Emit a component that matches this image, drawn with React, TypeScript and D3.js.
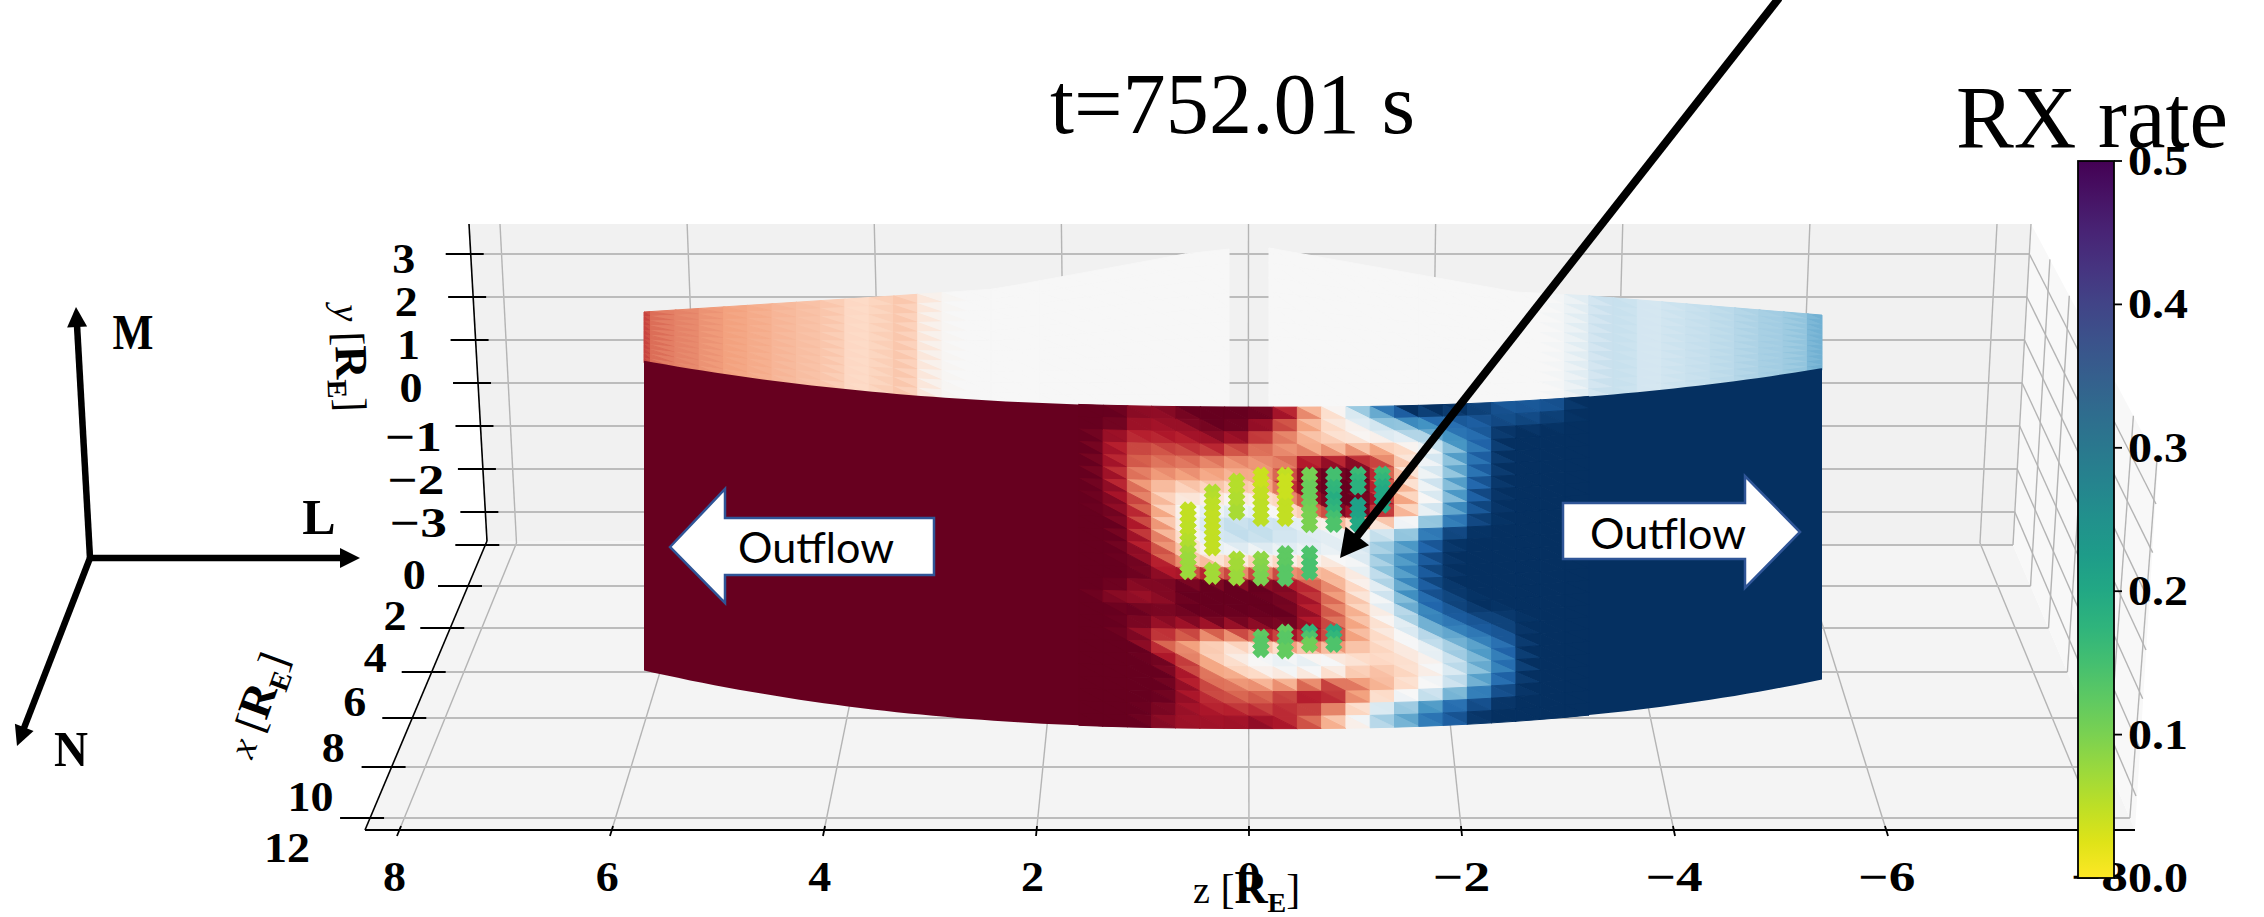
import React, { useEffect, useRef } from 'react'
import * as d3 from 'd3'

const WIDTH = 2264
const HEIGHT = 917

const SERIF = '"Liberation Serif", serif'
const OUTFLOW_FONT = 'Lato, sans-serif'

const zTicks = [8, 6, 4, 2, 0, -2, -4, -6, -8]
const yTicks = [3, 2, 1, 0, -1, -2, -3]
const xTicks = [0, 2, 4, 6, 8, 10, 12]
const rateTicks = [0, 0.1, 0.2, 0.3, 0.4, 0.5]

// flow value per mesh cell, rows top to bottom, columns from the red side.
// left of the table is saturated red, right of it saturated blue
const flowRows = [
  [-10, -9, -9, -10, -10, -10, -10, -8.5, -4, -1, 3, 6.5, 10, 10, 10, 9.5, 8.5, 8.5, 8.5],
  [-10, -8.5, -8.5, -9, -10, -10, -9, -6.5, -3.5, -1.5, 0, 3, 5, 7, 8, 8.5, 9, 9, 9.5],
  [-8.5, -7.5, -8, -8, -9, -9, -7, -5, -3, -2, -0.5, 0.5, 2, 4, 7, 8],
  [-8, -6.5, -6.5, -7, -7.5, -6.5, -5.5, -4.5, -4, -3.5, -3.5, -3.5, -1.5, 1, 5, 7.5],
  [-8, -6, -5.5, -5.5, -5, -4.5, -4.5, -5, -8.5, -8.5, -9, -6, -2, 1, 5, 8],
  [-8, -5, -4.5, -4.5, -4, -3.5, -4, -6, -9.5, -10, -10, -7, -2, 1, 4.5, 8],
  [-8.5, -4.5, -3, -2.5, -2.5, -2.5, -3, -7, -9.5, -10, -10, -7, -2.5, 1.5, 5, 8.5],
  [-9, -6, -2.5, -1, -1, -0.5, -1, -3, -8, -10, -10, -8, -3, 0.5, 5, 9],
  [-9.5, -7, -3, 0, 1, 1, 0.5, -1, -4, -9, -10, -8, -3, 1, 6, 9],
  [-10, -7.5, -3.5, 0, 2, 2.5, 2.5, 2, 0.5, -1.5, -3, -2, 0, 4, 7, 9.5],
  [-10, -8, -4, -1, 1.5, 2.5, 2.5, 2, 1.5, 1, 1, 2.5, 4, 7.5, 9.5],
  [-10, -8.5, -5.5, -2, 0.5, 1, 1, 1, 1, 1, 1.5, 3.5, 5.5, 8.5],
  [-10, -9.5, -7, -3, -2, -1.5, -1.5, -1, -1, -0.5, 0.5, 4, 6, 9],
  [-10, -10, -8.5, -7.5, -7, -5.5, -6, -6, -4, -3, 0, 3.5, 6, 9],
  [-10, -9, -9.5, -10, -10, -10, -10, -9, -7, -4, -1.5, 2, 6, 9],
  [-9, -8.5, -9, -10, -10, -10, -10, -9.5, -8, -5, -2, 1, 5.5, 8.5, 9.5],
  [-10, -10, -9.5, -10, -10, -10, -10, -10, -8.5, -5.5, -3, 0, 4, 7.5, 9],
  [-10, -9.5, -9, -9, -9.5, -9.5, -9.5, -10, -8.5, -6, -3.5, -1, 2, 6, 8, 9, 9.5],
  [-10, -9, -7, -6.5, -5, -5.5, -7, -8, -8, -7, -3.5, -1.5, 0.5, 4, 6, 8, 9],
  [-10, -10, -6, -4, -2, -1.5, -1.5, -3, -4, -4, -3, -2, -0.5, 1.5, 4, 6, 8],
  [-10, -10, -9.5, -6, -3, -1, 0.5, 1, 1, 0, -1.5, -2, -1.5, 0, 3, 5, 7.5],
  [-10, -10, -10, -7.5, -4.5, -3, -1, 0, 0, -0.5, -2.5, -3, -2, -0.5, 2, 4.5, 7],
  [-10, -10, -10, -8.5, -6, -5, -4, -4, -5.5, -7, -5, -3.5, -2, 0, 2, 5, 8],
  [-10, -10, -10, -8.5, -7, -6, -6, -7, -8.5, -8, -4.5, -2, 0, 2, 4.5, 7, 9],
  [-10, -10, -9.5, -8.5, -8, -7.5, -7, -7.5, -7, -5, -2, 2, 4, 6, 8, 9],
  [-10, -10, -9, -8.5, -8.5, -8.5, -9, -8, -6, -3, 0, 3.5, 5, 7.5, 8.5],
]

// far side of the surface, one value per column
const stripRedColumns = [-6.8, -5.2, -4.9, -4.4, -4, -3.7, -3.3, -3, -2.7, -1.9, -2.3, -2.9, -0.6]
const stripBlueColumns = [0, 0.8, 2.2, 2.3, 1.7, 2.1, 2.3, 2.6, 3, 3.4, 3.7, 4.8]

// RX rate markers: mesh column, first mesh row, then one rate per marker (half a row apart)
const rxColumns = [3, 4, 4, 5, 5, 6, 6, 7, 7, 8, 8, 9, 10, 10, 11, 6, 7, 8, 9]
const rxFirstRows = [8.35, 6.9, 13.2, 6, 12.3, 5.5, 12.3, 5.5, 11.85, 5.5, 11.85, 5.5, 5.5, 8, 5.5, 18.6, 18.2, 18.2, 18.2]
const rxRates = [
  [0.045, 0.045, 0.045, 0.05, 0.05, 0.055, 0.06, 0.07, 0.075, 0.075, 0.075],
  [0.06, 0.055, 0.05, 0.05, 0.045, 0.045, 0.045, 0.045, 0.045, 0.045],
  [0.07, 0.07],
  [0.055, 0.055, 0.055, 0.06, 0.06, 0.065],
  [0.065, 0.07, 0.07, 0.075],
  [0.04, 0.04, 0.04, 0.045, 0.045, 0.05, 0.05, 0.05],
  [0.085, 0.09, 0.095, 0.1],
  [0.045, 0.04, 0.04, 0.04, 0.04, 0.045, 0.045, 0.045],
  [0.125, 0.125, 0.125, 0.13, 0.13],
  [0.105, 0.105, 0.115, 0.115, 0.115, 0.11, 0.105, 0.1, 0.1],
  [0.14, 0.14, 0.145, 0.145],
  [0.15, 0.15, 0.17, 0.175, 0.19, 0.18, 0.17, 0.15, 0.14],
  [0.16, 0.17, 0.18],
  [0.215, 0.215, 0.21, 0.2],
  [0.16, 0.17, 0.19, 0.2, 0.2, 0.2],
  [0.125, 0.13, 0.13],
  [0.12, 0.13, 0.13, 0.12],
  [0.17, 0.14, 0.11],
  [0.19, 0.17, 0.14],
]

// width of a bold tick label, the reference font runs wider than the installed one
const tickWidth = (s: string) => s.replace('\u2212', '').length * 23 + (s.startsWith('\u2212') ? 34 : 0)

export default function App() {
  const ref = useRef<SVGSVGElement>(null)

  useEffect(() => {
    const svg = d3.select(ref.current)
    svg.selectAll('*').remove()

    const line = (g: any, x1: number, y1: number, x2: number, y2: number, stroke: string, w: number) =>
      g.append('line')
        .attr('x1', x1).attr('y1', y1).attr('x2', x2).attr('y2', y2)
        .attr('stroke', stroke).attr('stroke-width', w)

    const poly = (g: any, pts: number[][], fill: string) =>
      g.append('polygon').attr('points', pts.map((p) => p.join(',')).join(' ')).attr('fill', fill)

    const label = (g: any, x: number, y: number, s: string, size: number, opts: any = {}) => {
      const t = g.append('text')
        .attr('x', x).attr('y', y)
        .attr('font-family', opts.family || SERIF)
        .attr('font-size', size)
        .attr('font-weight', opts.weight || 'normal')
        .attr('text-anchor', opts.anchor || 'middle')
        .attr('fill', '#000')
        .text(s)
      if (opts.length) t.attr('textLength', opts.length).attr('lengthAdjust', 'spacingAndGlyphs')
      return t
    }

    // 3D box
    const zTop = d3.scaleLinear().domain([8, -8]).range([500, 1997])
    const zBack = d3.scaleLinear().domain([8, -8]).range([516.5, 1980])
    const zFront = d3.scaleLinear().domain([8, -8]).range([398.6, 2099.4])
    const yWall = d3.scaleLinear().domain([3, -3]).range([254, 512])
    const depth = d3.scaleLinear().domain(xTicks).range([545, 586, 628, 672, 718, 767, 818])
    const wallSpine = d3.scaleLinear().domain([224, 541]).range([469, 487])
    const floorSpine = d3.scaleLinear().domain([541, 830]).range([487, 365])
    const floorRight = d3.scaleLinear().domain([545, 830]).range([2013, 2135])
    const wallRight = d3.scaleLinear().domain([224, 545]).range([2031, 2013])
    const sideTopX = d3.scaleLinear().domain([2013, 2129]).range([2031, 2156])
    const sideTopY = d3.scaleLinear().domain([2031, 2156]).range([224, 458])
    const sideFrontX = d3.scaleLinear().domain([3, -3]).range([2156, 2136])
    const sideFrontY = d3.scaleLinear().domain([3, -3]).range([504, 796])
    const floorZ = (z: number, y: number) =>
      d3.scaleLinear().domain([543, 832]).range([zBack(z), zFront(z)])(y)

    const box = svg.append('g')
    poly(box, [[469, 224], [2031, 224], [2013, 545], [487, 541]], '#f1f1f1')
    poly(box, [[487, 541], [2013, 545], [2135, 830], [365, 830]], '#f4f4f4')
    poly(box, [[2031, 224], [2158, 462], [2135, 830], [2013, 545]], '#f8f8f8')

    const GRID = '#b4b4b4'
    zTicks.forEach((z) => {
      line(box, zTop(z), 224, zBack(z), 543, GRID, 1.4)
      line(box, zBack(z), 543, floorZ(z, 830), 830, GRID, 1.4)
    })
    yTicks.forEach((y) => {
      const py = yWall(y)
      line(box, wallSpine(py), py, wallRight(py), py, '#bcbcbc', 2)
      line(box, wallRight(py), py, sideFrontX(y), sideFrontY(y), GRID, 1.4)
    })
    xTicks.forEach((x) => {
      const py = depth(x)
      const bx = floorRight(py)
      line(box, floorSpine(py), py, bx, py, '#bcbcbc', 2)
      if (x > 0) line(box, bx, py, sideTopX(bx), sideTopY(sideTopX(bx)), GRID, 1.4)
    })
    line(box, 2031, 224, 2013, 545, GRID, 1.4)

    // surface
    const colX = d3.scaleLinear().domain([-18.9, 29.6]).range([644, 1822]).clamp(true)
    const colXOpen = colX.copy().clamp(false)
    const arc = (x: number) => 1 - Math.pow(Math.abs(x - 1240) / 589, 2.4)
    const baseTop = d3.scaleLinear().domain([644, 1822]).range([362, 367])
    const baseBottom = d3.scaleLinear().domain([644, 1822]).range([672, 678])
    const surfTop = (x: number) => baseTop(x) + 42.5 * arc(x)
    const surfBottom = (x: number) => baseBottom(x) + 53.5 * arc(x)
    const rowFrac = d3.scaleLinear().domain([0, flowRows.length]).range([0, 1])
    const project = (k: number, v: number) => {
      const x = colX(k)
      return [x, surfTop(x) + (surfBottom(x) - surfTop(x)) * rowFrac(v)]
    }

    // same stops as matplotlib's RdBu
    const flowColor = d3.scaleLinear<string>().domain(d3.range(-10, 11, 2)).range(d3.schemeRdBu[11]).clamp(true)
    const flow = (r: number, k: number) => {
      if (k < 0) return -10
      const row = flowRows[Math.max(0, Math.min(flowRows.length - 1, r))]
      return k < row.length ? row[k] : 10
    }

    const tri = (g: any, pts: number[][], value: number) => {
      const c = flowColor(value)
      poly(g, pts, c).attr('stroke', c).attr('stroke-width', 1)
    }

    // far side first, the front covers its lower edge
    const stripEdge = d3.scaleLinear()
      .domain([644, 893, 995, 1185, 1229, 1269, 1516, 1591, 1821])
      .range([312, 296, 289, 254, 249, 248, 292, 296, 315])
    const stripRows = d3.range(11)
    const stripPoint = (x: number, v: number) => {
      const top = stripEdge(x)
      return [x, top + (surfTop(x) + 2 - top) * (v / stripRows.length)]
    }
    const stripG = svg.append('g')
    const drawStrip = (
      kFrom: number, kTo: number, values: (k: number) => number,
      xMin: number, xMax: number, shift: number,
    ) => {
      d3.range(kFrom, kTo).forEach((k) => {
        const x0 = Math.max(colXOpen(k) + shift, xMin)
        const x1 = Math.min(colXOpen(k + 1) + shift, xMax)
        if (x1 <= x0) return
        const val = values(k)
        const left = values(k - 1)
        const right = values(k + 1)
        stripRows.forEach((v) => {
          const tl = stripPoint(x0, v)
          const tr = stripPoint(x1, v)
          const bl = stripPoint(x0, v + 1)
          const br = stripPoint(x1, v + 1)
          tri(stripG, [tl, tr, br], 0.75 * val + 0.25 * right)
          tri(stripG, [tl, bl, br], 0.75 * val + 0.25 * left)
        })
      })
    }
    const stripRedAt = (k: number) => {
      const i = k + 20
      if (i < 0) return stripRedColumns[0]
      return i < stripRedColumns.length ? stripRedColumns[i] : 0
    }
    const stripBlueAt = (k: number) => {
      const i = k - 18
      if (i < 0) return 0
      return i < stripBlueColumns.length ? stripBlueColumns[i] : stripBlueColumns[stripBlueColumns.length - 1]
    }
    drawStrip(-20, 6, stripRedAt, 644, 1229, 9)
    drawStrip(6, 30, stripBlueAt, 1269, 1822, 0)

    // saturated flanks are one shape each so no mesh seams show in them
    const flank = d3.area<number>()
      .x((k) => colX(k))
      .y0((k) => surfTop(colX(k)))
      .y1((k) => surfBottom(colX(k)))
    const front = svg.append('g')
    front.append('path').attr('d', flank(d3.range(-19, 1.01, 0.5))).attr('fill', flowColor(-10))
    front.append('path').attr('d', flank(d3.range(19, 30.01, 0.5))).attr('fill', flowColor(10))

    d3.range(-1, 20).forEach((k) => {
      flowRows.forEach((_, r) => {
        const val = flow(r, k)
        const tl = project(k, r)
        const tr = project(k + 1, r)
        const bl = project(k, r + 1)
        const br = project(k + 1, r + 1)
        tri(front, [tl, tr, br], 0.6 * val + 0.2 * (r > 0 ? flow(r - 1, k) : val) + 0.2 * flow(r, k + 1))
        tri(front, [tl, bl, br], 0.6 * val + 0.2 * flow(r, k - 1) + 0.2 * (r < flowRows.length - 1 ? flow(r + 1, k) : val))
      })
    })

    // RX rate markers
    const rateColor = d3.scaleSequential((t: number) => d3.interpolateViridis(1 - t)).domain([0, 0.5])
    const cross = d3.symbol().type(d3.symbolX).size(90)
    const markers = svg.append('g')
    rxRates.forEach((rates, s) => {
      rates.forEach((rate, i) => {
        const [mx, my] = project(rxColumns[s] + 0.5, rxFirstRows[s] + 0.5 * i)
        markers.append('path')
          .attr('d', cross())
          .attr('transform', `translate(${mx},${my})`)
          .attr('fill', 'none')
          .attr('stroke', rateColor(rate))
          .attr('stroke-width', 8)
      })
    })

    // axis lines and ticks
    const axes = svg.append('g')
    line(axes, 469, 224, 487, 541, '#000', 1.6)
    line(axes, 487, 541, 365, 830, '#000', 1.6)
    line(axes, 365, 830, 2135, 830, '#000', 2)
    const tickLabel = (x: number, y: number, v: number) => {
      const s = v < 0 ? `\u2212${Math.abs(v)}` : `${v}`
      label(axes, x, y, s, 42, { weight: 'bold', length: tickWidth(s) })
    }
    yTicks.forEach((y) => {
      const py = yWall(y)
      const sx = wallSpine(py)
      line(axes, sx - 25, py, sx + 13, py, '#000', 1.8)
      tickLabel(sx - 67, py + (y < 0 ? 25 : 19), y)
    })
    xTicks.forEach((x) => {
      const py = depth(x)
      const sx = floorSpine(py)
      line(axes, sx - 30, py, sx + 14, py, '#000', 1.8)
      tickLabel(sx - 71 - x, py + 44, x)
    })
    zTicks.forEach((z) => {
      line(axes, floorZ(z, 826), 826, floorZ(z, 836), 836, '#000', 1.8)
      tickLabel(floorZ(z, 832) - (z > 0 ? 4 : 0), 891, z)
    })

    const axisLabel = (transform: string, letter: string, italic: boolean) => {
      const t = svg.append('text')
        .attr('transform', transform)
        .attr('font-family', SERIF)
        .attr('fill', '#000')
      t.append('tspan').attr('font-size', 38).attr('font-style', italic ? 'italic' : 'normal').text(letter)
      t.append('tspan').attr('font-size', 42).text(' [')
      t.append('tspan').attr('font-size', 46).attr('font-weight', 'bold').text('R')
      t.append('tspan').attr('font-size', 28).attr('font-weight', 'bold').attr('dy', 9).text('E')
      t.append('tspan').attr('font-size', 42).attr('dy', -9).text(']')
    }
    axisLabel('translate(334,305) rotate(88)', 'y', true)
    axisLabel('translate(252,760) rotate(-70)', 'x', true)
    axisLabel('translate(1193,903)', 'z', false)

    // arrows drawn over the plot
    const arrow = (from: number[], to: number[], w: number, len: number, half: number) => {
      const d = Math.hypot(to[0] - from[0], to[1] - from[1])
      const ux = (to[0] - from[0]) / d
      const uy = (to[1] - from[1]) / d
      line(svg, from[0], from[1], to[0] - ux * len * 0.8, to[1] - uy * len * 0.8, '#000', w)
      poly(svg, [
        to,
        [to[0] - ux * len - uy * half, to[1] - uy * len + ux * half],
        [to[0] - ux * len + uy * half, to[1] - uy * len - ux * half],
      ], '#000')
    }
    arrow([1779, -2], [1340, 558], 8, 28, 15)
    arrow([90, 558], [76, 307], 6.5, 20, 10)
    arrow([90, 558], [360, 558], 6.5, 20, 10)
    arrow([90, 558], [17, 746], 6.5, 20, 10)
    label(svg, 133, 349, 'M', 50, { weight: 'bold', length: 41 })
    label(svg, 319, 534, 'L', 50, { weight: 'bold' })
    label(svg, 71, 766, 'N', 50, { weight: 'bold', length: 34 })

    const OUTLINE = '#2f5597'
    poly(svg, [[670, 547], [725, 489], [725, 518], [934, 518], [934, 575], [725, 575], [725, 603]], '#fff')
      .attr('stroke', OUTLINE).attr('stroke-width', 2.5)
    poly(svg, [[1800, 532], [1745, 476], [1745, 503], [1563, 503], [1563, 559], [1745, 559], [1745, 588]], '#fff')
      .attr('stroke', OUTLINE).attr('stroke-width', 2.5)
    label(svg, 738, 563, 'Outflow', 42, { family: OUTFLOW_FONT, anchor: 'start', length: 156 })
    label(svg, 1590, 549, 'Outflow', 42, { family: OUTFLOW_FONT, anchor: 'start', length: 156 })

    label(svg, 1050, 133, 't=752.01 s', 86, { anchor: 'start', length: 365 })
    label(svg, 1956, 147, 'RX rate', 88, { anchor: 'start', length: 272 })

    // colorbar
    const rateY = d3.scaleLinear().domain([0, 0.5]).range([878, 161])
    const grad = svg.append('defs').append('linearGradient')
      .attr('id', 'rate-grad')
      .attr('x1', 0).attr('y1', 1).attr('x2', 0).attr('y2', 0)
    d3.range(0, 1.001, 0.05).forEach((t) => {
      grad.append('stop').attr('offset', t).attr('stop-color', rateColor(t * 0.5))
    })
    svg.append('rect')
      .attr('x', 2078).attr('y', rateY(0.5))
      .attr('width', 36).attr('height', rateY(0) - rateY(0.5))
      .attr('fill', 'url(#rate-grad)')
      .attr('stroke', '#000').attr('stroke-width', 1.8)
    rateTicks.forEach((t) => {
      line(svg, 2114, rateY(t), 2122, rateY(t), '#000', 1.8)
      label(svg, 2128, rateY(t) + 14, d3.format('.1f')(t), 42, { weight: 'bold', anchor: 'start', length: 60 })
    })
  }, [])

  return (
    <svg
      ref={ref}
      width={WIDTH}
      height={HEIGHT}
      viewBox={`0 0 ${WIDTH} ${HEIGHT}`}
      style={{ position: 'absolute', left: 0, top: 0, display: 'block', background: '#fff' }}
    />
  )
}
